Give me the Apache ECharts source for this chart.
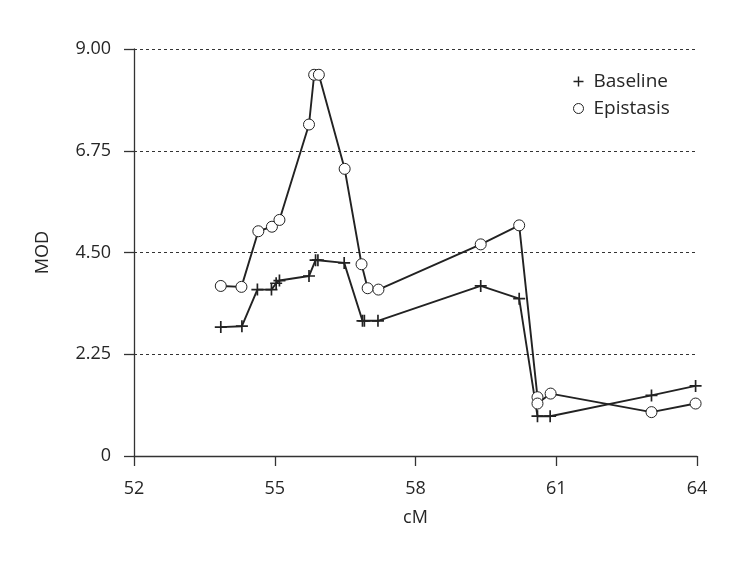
<!DOCTYPE html>
<html>
<head>
<meta charset="utf-8">
<script src="https://cdn.jsdelivr.net/npm/echarts@6/dist/echarts.min.js"></script>
<style>
  html, body { margin: 0; padding: 0; background: #fff; }
  #main { width: 753px; height: 564px; }
</style>
</head>
<body>
<div id="main"></div>
<script>
// cM positions and MOD values
const baselineX = [53.85, 54.30, 54.63, 54.93, 55.03, 55.10, 55.73, 55.87, 55.92, 56.48, 56.87, 56.91, 57.20, 59.39, 60.21, 60.60, 60.87, 63.03, 63.97];
const baselineY = [2.85, 2.87, 3.68, 3.68, 3.82, 3.88, 3.98, 4.33, 4.33, 4.27, 2.99, 2.99, 2.99, 3.76, 3.48, 0.88, 0.88, 1.34, 1.55];

const epistasisX = [53.85, 54.29, 54.65, 54.94, 55.10, 55.73, 55.84, 55.94, 56.49, 56.85, 56.98, 57.21, 59.39, 60.21, 60.60, 60.60, 60.88, 63.03, 63.97];
const epistasisY = [3.76, 3.74, 4.97, 5.07, 5.22, 7.33, 8.43, 8.43, 6.35, 4.24, 3.71, 3.68, 4.68, 5.10, 1.30, 1.16, 1.38, 0.97, 1.16];

const xTicks = [52, 55, 58, 61, 64];
const yTicks = [0, 2.25, 4.5, 6.75, 9];

const ink = '#222';
const textCol = '#262626';
const crossPath = 'path://M4.3,0H5.7V4.3H10V5.7H5.7V10H4.3V5.7H0V4.3H4.3Z';
const font = 'Open Sans';

const zip = (xs, ys) => xs.map((x, i) => [x, ys[i]]);

const chart = echarts.init(document.getElementById('main'));
chart.setOption({
  backgroundColor: '#fff',
  animation: false,
  textStyle: { fontFamily: font },
  grid: { left: 134, right: 56, top: 49, bottom: 108 },
  legend: {
    orient: 'vertical',
    left: 568,
    top: 67,
    itemGap: 8,
    itemWidth: 10,
    itemHeight: 10,
    textStyle: { fontFamily: font, fontSize: 19, color: textCol, padding: [0, 0, 0, 5] },
    data: [
      { name: 'Baseline', icon: crossPath, itemStyle: { color: ink, borderWidth: 0 } },
      { name: 'Epistasis', icon: 'circle', itemStyle: { color: '#fff', borderColor: ink, borderWidth: 1 } }
    ]
  },
  xAxis: {
    type: 'value',
    min: xTicks[0],
    max: xTicks[xTicks.length - 1],
    interval: 3,
    name: 'cM',
    nameLocation: 'middle',
    nameGap: 53,
    nameTextStyle: { fontFamily: font, fontSize: 18, color: textCol },
    axisLine: { show: true, onZero: false, lineStyle: { color: '#333', width: 1.3 } },
    axisTick: { show: true, inside: false, length: 10, lineStyle: { color: '#333', width: 1.3 } },
    axisLabel: { fontFamily: font, fontSize: 18, color: textCol, margin: 24 },
    splitLine: { show: false }
  },
  yAxis: {
    type: 'value',
    min: yTicks[0],
    max: yTicks[yTicks.length - 1],
    interval: 2.25,
    name: 'MOD',
    nameLocation: 'middle',
    nameGap: 82,
    nameTextStyle: { fontFamily: font, fontSize: 18, color: textCol },
    axisLine: { show: true, onZero: false, lineStyle: { color: '#333', width: 1.3 } },
    axisTick: { show: true, inside: false, length: 10, lineStyle: { color: '#333', width: 1.3 } },
    axisLabel: {
      fontFamily: font, fontSize: 18, color: textCol, margin: 23,
      formatter: v => (v === 0 ? '0' : v.toFixed(2))
    },
    splitLine: { show: true, lineStyle: { color: '#333', width: 1, type: [3, 3] } }
  },
  series: [
    {
      name: 'Baseline',
      type: 'line',
      data: zip(baselineX, baselineY),
      symbol: crossPath,
      symbolSize: 12,
      showAllSymbol: true,
      lineStyle: { color: ink, width: 1.9 },
      itemStyle: { color: ink, borderWidth: 0 },
      z: 3
    },
    {
      name: 'Epistasis',
      type: 'line',
      data: zip(epistasisX, epistasisY),
      symbol: 'circle',
      symbolSize: 11,
      showAllSymbol: true,
      lineStyle: { color: ink, width: 1.9 },
      itemStyle: { color: '#fff', borderColor: ink, borderWidth: 1 },
      z: 4
    }
  ]
});
</script>
</body>
</html>
